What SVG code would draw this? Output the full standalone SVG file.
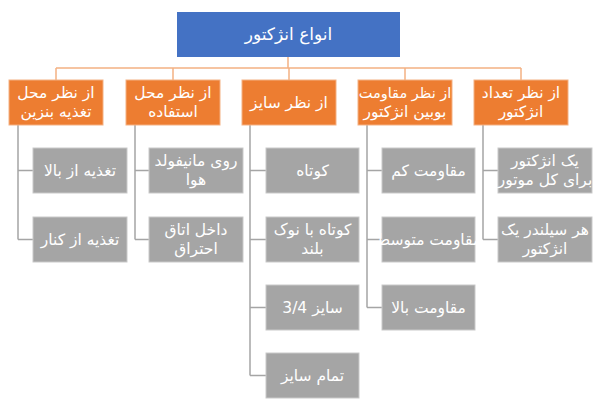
<svg xmlns="http://www.w3.org/2000/svg" width="600" height="404" viewBox="0 0 600 404">
<style>
.t{font-family:"DejaVu Sans","Noto Sans",sans-serif;fill:#fff;text-anchor:middle;font-size:15.5px}
.top{fill:#4472C4}
.or{fill:#ED7D31;stroke:#F4B183;stroke-width:1}
.gr{fill:#A5A5A5;stroke:#C9C9C9;stroke-width:1}
.co{stroke:#F4B183;stroke-width:1.5;fill:none}
.cg{stroke:#A5A5A5;stroke-width:1.5;fill:none}
</style>
<rect width="600" height="404" fill="#fff"/>
<g id="connectors">
<path class="co" d="M288,57V68M56,68H521M56,68V80M173,68V80M289,68V80M405,68V80M521,68V80"/>
<path class="cg" d="M18,125V239.5M18,170.5H33M18,239.5H33"/>
<path class="cg" d="M135,125V239.5M135,170.5H149M135,239.5H149"/>
<path class="cg" d="M250,125V375.5M250,170.5H266M250,239.5H266M250,307.5H266M250,375.5H266"/>
<path class="cg" d="M367,125V307.5M367,170.5H382M367,239.5H382M367,307.5H382"/>
<path class="cg" d="M483,125V239.5M483,170.5H498M483,239.5H498"/>
</g>
<g id="root"><rect class="top" x="177" y="12" width="223" height="45"/><text class="t" x="288.5" y="40" style="font-size:17px">انواع انژکتور</text></g>
<g id="c1"><rect class="or" x="9" y="80" width="94" height="45"/><text class="t" x="56" y="98">از نظر محل</text><text class="t" x="56" y="117">تغذیه بنزین</text></g>
<g id="c2"><rect class="or" x="126" y="80" width="94" height="45"/><text class="t" x="173" y="98">از نظر محل</text><text class="t" x="173" y="117">استفاده</text></g>
<g id="c3"><rect class="or" x="242" y="80" width="94" height="45"/><text class="t" x="289" y="108">از نظر سایز</text></g>
<g id="c4"><rect class="or" x="358" y="80" width="94" height="45"/><text class="t" x="405" y="98" style="font-size:14.5px">از نظر مقاومت</text><text class="t" x="405" y="117">بوبین انژکتور</text></g>
<g id="c5"><rect class="or" x="474" y="80" width="94" height="45"/><text class="t" x="521" y="98">از نظر تعداد</text><text class="t" x="521" y="117">انژکتور</text></g>
<g id="c1a"><rect class="gr" x="33" y="148" width="94" height="45"/><text class="t" x="80" y="176">تغذیه از بالا</text></g>
<g id="c1b"><rect class="gr" x="33" y="217" width="94" height="45"/><text class="t" x="80" y="245">تغذیه از کنار</text></g>
<g id="c2a"><rect class="gr" x="149" y="148" width="94" height="45"/><text class="t" x="196" y="166">روی مانیفولد</text><text class="t" x="196" y="185">هوا</text></g>
<g id="c2b"><rect class="gr" x="149" y="217" width="94" height="45"/><text class="t" x="196" y="235">داخل اتاق</text><text class="t" x="196" y="254">احتراق</text></g>
<g id="c3a"><rect class="gr" x="266" y="148" width="93" height="45"/><text class="t" x="312.5" y="176">کوتاه</text></g>
<g id="c3b"><rect class="gr" x="266" y="217" width="93" height="45"/><text class="t" x="312.5" y="235">کوتاه با نوک</text><text class="t" x="312.5" y="254">بلند</text></g>
<g id="c3c"><rect class="gr" x="266" y="285" width="93" height="45"/><text class="t" x="312.5" y="313">3/4  سایز</text></g>
<g id="c3d"><rect class="gr" x="266" y="353" width="93" height="45"/><text class="t" x="312.5" y="381">تمام سایز</text></g>
<g id="c4a"><rect class="gr" x="382" y="148" width="93" height="45"/><text class="t" x="428.5" y="176">مقاومت کم</text></g>
<g id="c4b"><rect class="gr" x="382" y="217" width="93" height="45"/><text class="t" x="428.5" y="245">مقاومت متوسط</text></g>
<g id="c4c"><rect class="gr" x="382" y="285" width="93" height="45"/><text class="t" x="428.5" y="313">مقاومت بالا</text></g>
<g id="c5a"><rect class="gr" x="498" y="148" width="94" height="45"/><text class="t" x="545" y="166">یک انژکتور</text><text class="t" x="545" y="185">برای کل موتور</text></g>
<g id="c5b"><rect class="gr" x="498" y="217" width="94" height="45"/><text class="t" x="545" y="235">هر سیلندر یک</text><text class="t" x="545" y="254">انژکتور</text></g>
</svg>
